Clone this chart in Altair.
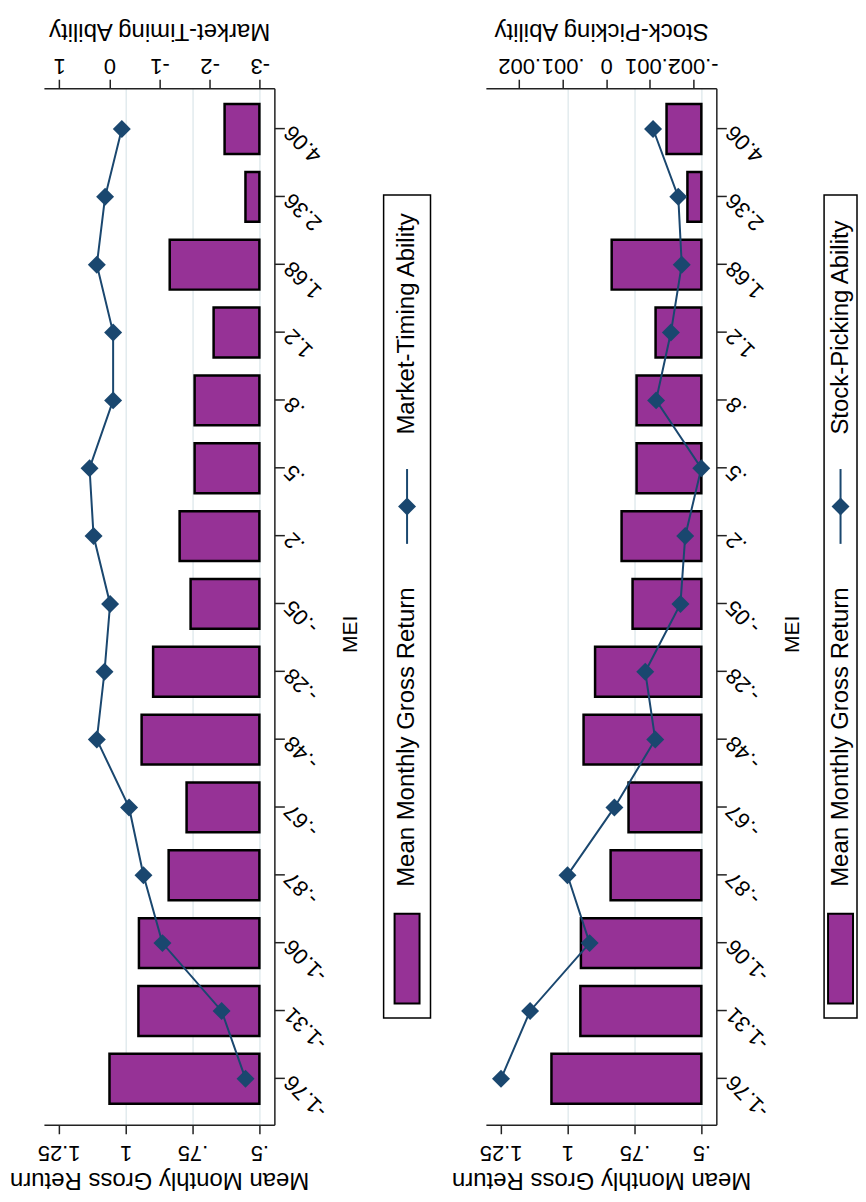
import altair as alt
import pandas as pd

FONT = "Liberation Sans"
PURPLE = "#963296"
NAVY = "#1a476f"
GRID = "#e2ebee"
AXC = "#222222"

# ---- data ----
mei = ["-1.76", "-1.31", "-1.06", "-.87", "-.67", "-.48", "-.28", "-.05",
       ".2", ".5", ".8", "1.2", "1.68", "2.36", "4.06"]
gross_return = [1.060, 0.952, 0.950, 0.839, 0.772, 0.940, 0.897, 0.757,
                0.798, 0.742, 0.742, 0.671, 0.835, 0.552, 0.630]
market_timing = [-2.715, -2.238, -1.058, -0.680, -0.393, 0.250, 0.097, -0.015,
                 0.315, 0.395, -0.075, -0.075, 0.250, 0.085, -0.248]
stock_picking = [0.00242, 0.00175, 0.00038, 0.00089, -0.00019, -0.00113, -0.00090, -0.00171,
                 -0.00182, -0.00219, -0.00115, -0.00149, -0.00174, -0.00166, -0.00108]

ret_ticks = [0.5, 0.75, 1.0, 1.25]
ret_tick_labels = [".5", ".75", "1", "1.25"]
mt_ticks = [-3, -2, -1, 0, 1]
mt_tick_labels = ["-3", "-2", "-1", "0", "1"]
sp_ticks = [-0.002, -0.001, 0.0, 0.001, 0.002]
sp_tick_labels = ["-.002", "-.001", "0", ".001", ".002"]

ret_domain = [0.444, 1.305]
mt_domain = [-3.29, 1.305]
sp_domain = [-0.002536, 0.002768]

ret_title = "Mean Monthly Gross Return"
mt_title = "Market-Timing Ability"
sp_title = "Stock-Picking Ability"
cat_title = "MEI"

df = pd.DataFrame({
    "mei": mei,
    "idx": list(range(len(mei))),
    "ret": gross_return,
    "mt": market_timing,
    "sp": stock_picking,
})


def label_expr(values, labels):
    expr = "''"
    for v, l in reversed(list(zip(values, labels))):
        expr = f"abs(datum.value - ({v})) < 1e-9 ? '{l}' : {expr}"
    return expr


PW, PH = 231, 1039


def panel(field, title, ticks, tick_labels, domain):
    y = alt.Y(
        "mei:N",
        sort=list(reversed(mei)),
        scale=alt.Scale(paddingInner=0.265, paddingOuter=0.272, align=0.43),
        axis=alt.Axis(
            orient="right", title=cat_title, labelAngle=225, labelAlign="right",
            labelBaseline="middle", labelFontSize=22, labelPadding=3, tickSize=10,
            titleAngle=270, titleBaseline="top", titleFontSize=21, titlePadding=9,
            titleY=547, grid=False,
        ),
    )
    bars = alt.Chart(df).mark_bar(
        color=PURPLE, stroke="black", strokeWidth=2.5
    ).encode(
        x=alt.X(
            "ret:Q",
            scale=alt.Scale(domain=ret_domain, reverse=True, nice=False, zero=False),
            axis=alt.Axis(
                orient="bottom", values=ret_ticks,
                labelExpr=label_expr(ret_ticks, ret_tick_labels),
                labelAngle=180, labelAlign="center", labelBaseline="bottom",
                labelFontSize=22, labelPadding=7, tickSize=9,
                labelFlush=False, labelOverlap=False,
                title=ret_title, titleAngle=180, titleBaseline="bottom",
                titleFontSize=24, titlePadding=4,
                grid=True, gridColor=GRID, gridWidth=1.5,
                gridOpacity={"condition": {"test": "datum.value > 1.1", "value": 0}, "value": 1},
            ),
        ),
        x2=alt.X2(datum=0.5),
        y=y,
    )
    xab = alt.X(
        f"{field}:Q",
        scale=alt.Scale(domain=domain, reverse=True, nice=False, zero=False),
        axis=alt.Axis(
            orient="top", values=ticks,
            labelExpr=label_expr(ticks, tick_labels),
            labelAngle=180, labelAlign="center", labelBaseline="top",
            labelFontSize=22, labelPadding=4, tickSize=9,
            labelFlush=False, labelOverlap=False,
            title=title, titleAngle=180, titleBaseline="top",
            titleFontSize=24, titlePadding=12, grid=False,
        ),
    )
    line = alt.Chart(df).mark_line(color=NAVY, strokeWidth=2).encode(
        x=xab, y=y, order=alt.Order("idx:Q")
    )
    pts = alt.Chart(df).mark_point(
        shape="diamond", filled=True, size=324, color=NAVY, opacity=1
    ).encode(x=xab, y=y)
    return alt.layer(bars, alt.layer(line, pts)).resolve_scale(x="independent").properties(
        width=PW, height=PH
    )


def legend(ab_title, w):
    entries = [ab_title, ret_title]
    ldf = pd.DataFrame({"entry": entries})
    y = alt.Y("entry:N", sort=entries,
              scale=alt.Scale(type="point", padding=0.41, align=0.84), axis=None)
    base = alt.Chart(ldf)
    swatch = base.transform_filter(alt.datum.entry == ret_title).mark_point(
        shape="M-0.278,-1L0.278,-1L0.278,1L-0.278,1Z", size=8100, filled=True,
        fill=PURPLE, stroke="black", strokeWidth=2, opacity=1,
    ).encode(y=y)
    lsym = base.transform_filter(alt.datum.entry == ab_title).mark_point(
        shape="M0,-1L0,1", size=5625, filled=False, stroke=NAVY, strokeWidth=2, opacity=1,
    ).encode(y=y)
    dia = base.transform_filter(alt.datum.entry == ab_title).mark_point(
        shape="diamond", size=324, filled=True, color=NAVY, opacity=1,
    ).encode(y=y)
    txt = base.mark_text(
        angle=270, align="left", baseline="middle", yOffset=-72, fontSize=24,
        font=FONT, color="black",
    ).encode(y=y, text="entry:N")
    return alt.layer(swatch, lsym, dia, txt).properties(
        width=w, height=825,
        view=alt.ViewBackground(stroke="black", strokeWidth=1.5),
    )


left = alt.hconcat(panel("mt", mt_title, mt_ticks, mt_tick_labels, mt_domain),
                   legend(mt_title, 47), spacing=109.5, center=True, bounds="flush")
right = alt.hconcat(panel("sp", sp_title, sp_ticks, sp_tick_labels, sp_domain),
                    legend(sp_title, 33), spacing=108, center=True, bounds="flush")

chart = alt.hconcat(left, right, spacing=18).properties(
    padding={"left": 0, "top": 8, "right": 0, "bottom": 0},
    background="white",
).configure_view(
    stroke="transparent"
).configure_axis(
    labelFont=FONT, titleFont=FONT, labelColor="black", titleColor="black",
    titleFontWeight="normal", domainColor=AXC, tickColor=AXC,
    domainWidth=1.5, tickWidth=1.5,
)

chart.save("out.html", embed_options={"renderer": "svg", "actions": False})
